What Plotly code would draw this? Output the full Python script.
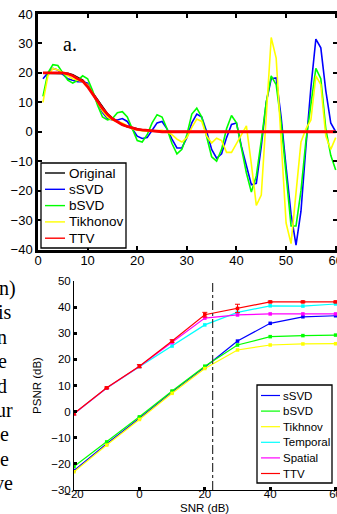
import plotly.graph_objects as go

# ---------------- top panel data (a.) ----------------
sample_idx = list(range(1, 61))

original = [20, 20, 20, 20, 20, 19.8, 19.3, 18.5, 17.5, 15.6,
            13.2, 10.5, 8.0, 6.0, 4.5, 3.3, 2.4, 1.8, 1.3, 0.8,
            0.5, 0.3, 0.2, 0.1, 0, 0, 0, 0, 0, 0,
            0, 0, 0, 0, 0, 0, 0, 0, 0, 0,
            0, 0, 0, 0, 0, 0, 0, 0, 0, 0,
            0, 0, 0, 0, 0, 0, 0, 0, 0, 0]

ssvd = [18, 20, 21.5, 21, 19.5, 18, 17.5, 17, 17, 16.5,
        13, 10, 6.5, 4.5, 4, 4, 4.5, 3.5, 0.8, -1.5,
        -2.3, -2, 0.5, 3, 3.5, 1, -2.5, -5.5, -5.5, -2,
        3, 6, 5, 0, -6, -9, -7.5, -2, 2.5, 3,
        -5, -12, -18, -17.5, -5, 10, 18, 18.3, 5, -12,
        -28, -38.5, -27, -5, 15, 31.5, 28.5, 14, 3, 0]

bsvd = [12, 20, 22.8, 22.5, 20, 17.5, 16.5, 17.5, 19, 18,
        14, 9, 5, 4, 4.5, 6.5, 6.8, 5, 1, -3,
        -3.5, -1, 3, 5.8, 5, 1, -4, -7.5, -6, -1,
        6, 8, 5, -2, -8.5, -10, -6, 1, 5.5, 3,
        -5, -14, -20.5, -15, -3, 10, 19, 16, 3, -15,
        -32, -32, -20, -3, 10, 21.5, 18, 1, -8, -13]

tikhonov = [10, 19, 21.5, 21, 20, 19, 18, 17.5, 17, 16,
            13, 10, 7, 5, 4, 3.5, 3, 2, 1, 0.5,
            0.3, 0.2, 0.2, 0.3, 0.5, 0, -1, -2.5, -3.5, -2,
            1.5, 4.3, 3.5, -1.5, -3.8, -2.2, -3, -7, -7, -4,
            -1, 2, -11, -25, -21.5, 5, 32, 25, -3, -31,
            -38, -20, -3.5, 1, 4, 19, 16, -1.5, -6, -2]

ttv = [20, 20, 20, 20, 20, 19.7, 19, 18, 17.2, 15.3,
       13, 10.4, 7.9, 5.9, 4.4, 3.3, 2.4, 1.8, 1.3, 0.8,
       0.6, 0.4, 0.2, 0.1, 0, 0, 0, 0, 0, 0,
       0, 0, 0, 0, 0, 0, 0, 0, 0, 0,
       0, 0, 0, 0, 0, 0, 0, 0, 0, 0,
       0, 0, 0, 0, 0, 0, 0, 0, 0, 0]

# ---------------- bottom panel data ----------------
snr = [-20, -10, 0, 10, 20, 30, 40, 50, 60]
psnr_ssvd = [-22.5, -12.3, -2.5, 7.5, 17, 27, 33.8, 36.3, 36.7]
psnr_bsvd = [-21, -11.6, -2, 7.9, 17.4, 25.5, 28.7, 29.1, 29.3]
psnr_tikh = [-23, -12.8, -3, 7, 16.5, 23.6, 25.5, 25.9, 26]
psnr_temporal = [-0.8, 9, 17.2, 25.1, 33.2, 38, 40.5, 40.4, 41.2]
psnr_spatial = [-0.8, 9, 17.3, 26.4, 35.8, 37, 37.4, 37.4, 37.4]
psnr_ttv = [-0.7, 9.1, 17.4, 27, 37.1, 39.5, 42, 42, 42]
psnr_ttv_err = [0.6, 0.3, 0.6, 0.5, 0.9, 1.6, 0.3, 0.3, 0.3]
threshold_snr = 22.4

side_text = ["n)", "is", "n", "e", "d", "ur", "ne", "ne", "ve"]

W, H = 337, 514
SANS = "Liberation Sans, Arial, sans-serif"
SERIF = "Liberation Serif, Times New Roman, serif"

fig = go.Figure()

top_series = [
    ("Original", original, "#000000", 2.0),
    ("sSVD", ssvd, "#0000FF", 1.6),
    ("bSVD", bsvd, "#00FF00", 1.6),
    ("Tikhonov", tikhonov, "#FFFF00", 1.6),
    ("TTV", ttv, "#FF0000", 2.8),
]
for name, vals, col, w in top_series:
    fig.add_trace(go.Scatter(x=sample_idx, y=vals, mode="lines", name=name,
                             line=dict(color=col, width=w),
                             xaxis="x", yaxis="y"))

bot_series = [
    ("sSVD", psnr_ssvd, "#0000FF", None),
    ("bSVD", psnr_bsvd, "#00FF00", None),
    ("Tikhnov", psnr_tikh, "#FFFF00", None),
    ("Temporal", psnr_temporal, "#00FFFF", None),
    ("Spatial", psnr_spatial, "#FF00FF", None),
    ("TTV", psnr_ttv, "#FF0000", psnr_ttv_err),
]
for name, vals, col, err in bot_series:
    kw = {}
    if err is not None:
        kw["error_y"] = dict(type="data", array=err, visible=True,
                             color=col, thickness=1, width=2.5)
    fig.add_trace(go.Scatter(x=snr, y=vals, mode="lines+markers", name=name,
                             line=dict(color=col, width=1.2),
                             marker=dict(symbol="square", size=3.5, color=col),
                             xaxis="x2", yaxis="y2", **kw))

fig.add_trace(go.Scatter(x=[threshold_snr, threshold_snr], y=[-30, 50], mode="lines",
                         line=dict(color="#333333", width=1.2, dash="dashdot"),
                         xaxis="x2", yaxis="y2", hoverinfo="skip"))


def px2fx(px):
    return px / W


def py2fy(py):
    return 1 - py / H


top_axis = dict(showline=True, linewidth=2.5, linecolor="black", mirror="ticks",
                ticks="inside", ticklen=4, tickwidth=1.5, tickcolor="black",
                showgrid=False, zeroline=False, automargin=False,
                ticklabeloverflow="allow",
                tickfont=dict(family=SANS, size=13, color="black"))
bot_axis = dict(showline=True, linewidth=1, linecolor="black", mirror=False,
                ticks="inside", ticklen=3, tickwidth=2.5, tickcolor="black",
                showgrid=False, zeroline=False, automargin=False,
                ticklabeloverflow="allow",
                tickfont=dict(family=SANS, size=11.5, color="black"))

fig.update_layout(
    template="none",
    width=W, height=H,
    margin=dict(l=0, r=0, t=0, b=0, pad=0),
    paper_bgcolor="white", plot_bgcolor="white",
    showlegend=False,
    xaxis=dict(domain=[px2fx(38), 1], range=[0, 60.26], dtick=10, anchor="y",
               ticklabelstandoff=-3, **top_axis),
    yaxis=dict(domain=[py2fy(249.5), py2fy(14)], range=[-40, 40], dtick=10, anchor="x", **top_axis),
    xaxis2=dict(domain=[px2fx(74), 1], range=[-20, 60.43], dtick=20, anchor="y2",
                ticklabelstandoff=-7, **bot_axis),
    yaxis2=dict(domain=[py2fy(490), py2fy(281)], range=[-30, 50], dtick=10, anchor="x2",
                title=dict(text="PSNR (dB)", font=dict(family=SANS, size=11.5, color="black"), standoff=7),
                **bot_axis),
)

fig.add_annotation(text="SNR (dB)", x=px2fx(204), y=py2fy(507.5), xref="paper", yref="paper",
                   xanchor="center", yanchor="middle", showarrow=False,
                   font=dict(family=SANS, size=11.5, color="black"))


def draw_legend(names, colors, widths, box, row_y, line_x, text_x, fsize):
    x0, y0, x1, y1 = box
    fig.add_shape(type="rect", xref="paper", yref="paper",
                  x0=px2fx(x0), x1=px2fx(x1), y0=py2fy(y1), y1=py2fy(y0),
                  line=dict(color="black", width=1.3), fillcolor="white", layer="above")
    for i, (nm, col, lw) in enumerate(zip(names, colors, widths)):
        yy = py2fy(row_y[0] + row_y[1] * i)
        fig.add_shape(type="line", xref="paper", yref="paper",
                      x0=px2fx(line_x[0]), x1=px2fx(line_x[1]), y0=yy, y1=yy,
                      line=dict(color=col, width=lw), layer="above")
        fig.add_annotation(text=nm, xref="paper", yref="paper", x=px2fx(text_x), y=yy,
                           xanchor="left", yanchor="middle", showarrow=False,
                           font=dict(family=SANS, size=fsize, color="black"))


draw_legend([s[0] for s in top_series], [s[2] for s in top_series], [1.4] * 5,
            (41, 163, 126, 248), (173, 16.3), (45, 65), 67, 13.5)
draw_legend([s[0] for s in bot_series], [s[2] for s in bot_series], [1.2] * 6,
            (257, 385, 332, 483), (395.5, 15.6), (261, 280), 281, 11.5)

fig.add_annotation(text="a.", x=px2fx(61), y=py2fy(31), xref="paper", yref="paper",
                   showarrow=False, font=dict(family=SERIF, size=20, color="black"))

right_edges = [18, 14, 9, 9, 9, 15, 11, 11, 15]
for i, (t, re) in enumerate(zip(side_text, right_edges)):
    fig.add_annotation(text=t, x=px2fx(re), y=py2fy(288 + 24.4 * i), xref="paper", yref="paper",
                       xanchor="right", yanchor="middle", showarrow=False,
                       font=dict(family=SERIF, size=20, color="black"))

fig.write_html("out.html", config={"displayModeBar": False},
               post_script="document.body.style.margin='0';")
